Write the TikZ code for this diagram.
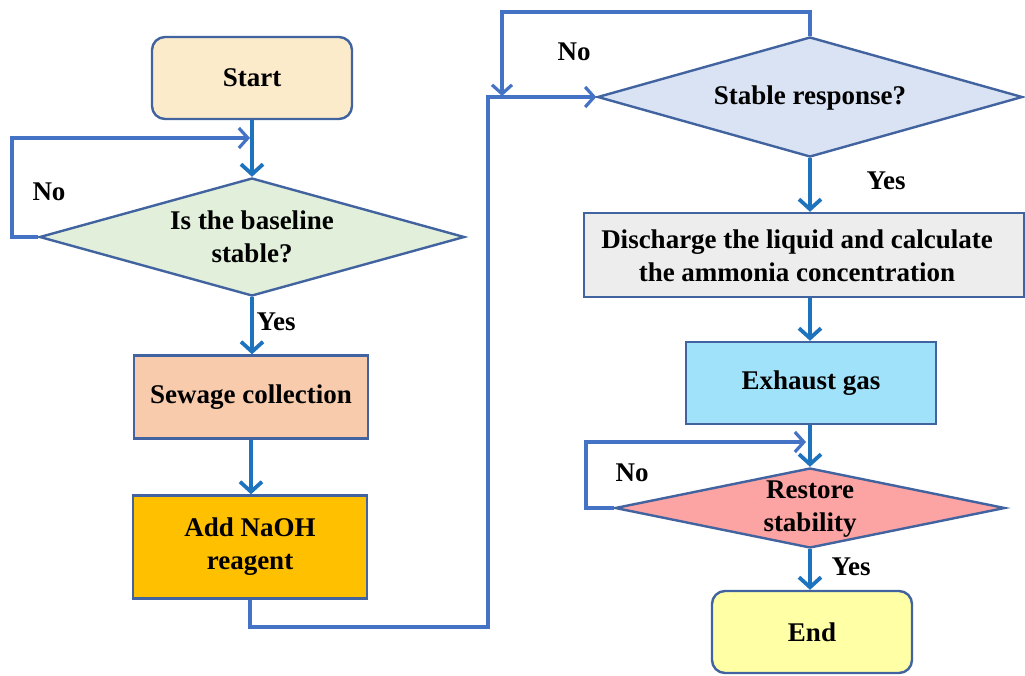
\documentclass[tikz,border=0pt]{standalone}
\usepackage{fontspec}
\setmainfont{Liberation Serif}
\usetikzlibrary{shapes.geometric,arrows.meta}
\definecolor{bordc}{HTML}{41639F}
\definecolor{arrc}{HTML}{1E73BE}
\definecolor{loopc}{HTML}{4472C4}
\definecolor{cstart}{HTML}{FCEBCB}
\definecolor{cd1}{HTML}{E2EFDA}
\definecolor{csew}{HTML}{F8CBAD}
\definecolor{cnaoh}{HTML}{FFC000}
\definecolor{cd2}{HTML}{DAE3F3}
\definecolor{cdis}{HTML}{EDEDED}
\definecolor{cexh}{HTML}{A0E2FA}
\definecolor{cd3}{HTML}{FCA3A3}
\definecolor{cend}{HTML}{FFFFA6}
\begin{document}
\begin{tikzpicture}[x=1pt,y=-1pt,
  txt/.style={font=\fontsize{27}{33}\selectfont\bfseries, align=center, inner sep=0pt},
  box/.style={draw=bordc, line width=2.4pt, inner sep=0pt, txt},
  rbox/.style={box, rounded corners=13pt},
  dia/.style={diamond, draw=bordc, line width=2.4pt, inner sep=0pt},
  flow/.style={draw=arrc, line width=3.8pt, -{Straight Barb[length=10pt,width=22pt]}},
  loopa/.style={draw=loopc, line width=3.2pt, -{Straight Barb[length=9pt,width=20pt]}},
  lbl/.style={txt}]
\useasboundingbox (0,0) rectangle (1025,675);
\fill[white] (0,0) rectangle (1025,675);
% left column
\node[rbox, fill=cstart, minimum width=200pt, minimum height=82pt] (start) at (252,78) {Start};
\node[dia, fill=cd1, minimum width=425pt, minimum height=118pt] (d1) at (252,237) {};
\node[txt] (d1t) at (252,237) {Is the baseline\\stable?};
\node[box, fill=csew, minimum width=234pt, minimum height=83pt] (sew) at (251,397) {Sewage collection};
\node[box, fill=cnaoh, minimum width=234pt, minimum height=103pt] (naoh) at (250,547) {Add NaOH\\reagent};
% right column
\node[dia, fill=cd2, minimum width=425pt, minimum height=120pt] (d2) at (810,97) {};
\node[txt] (d2t) at (810,98) {Stable response?};
\node[box, fill=cdis, minimum width=440pt, minimum height=84pt] (dis) at (804,255) {};
\node[txt] (dist) at (797,256) {Discharge the liquid and calculate\\the ammonia concentration};
\node[box, fill=cexh, minimum width=250pt, minimum height=82pt] (exh) at (811,383) {Exhaust gas};
\node[dia, fill=cd3, minimum width=390pt, minimum height=80pt] (d3) at (810,508) {};
\node[txt] (d3t) at (810,509) {Restore\\stability};
\node[rbox, fill=cend, minimum width=200pt, minimum height=82pt] (end) at (812,632) {End};
% labels
\node[lbl] (no1) at (49,192) {No};
\node[lbl] (yes1) at (276,322) {Yes};
\node[lbl] (no2) at (574,52) {No};
\node[lbl] (yes2) at (886,181) {Yes};
\node[lbl] (no3) at (632,473) {No};
\node[lbl] (yes3) at (851,567) {Yes};
% junction coordinates
\coordinate (j1) at (250,138);
\coordinate (j2) at (502,96);
\coordinate (j3) at (806,442);
% flow arrows
\draw[flow] (start.south) -- (d1.north);
\draw[flow] (d1.south) -- (sew.north -| d1.south);
\draw[flow] (sew.south) -- (naoh.north -| sew.south);
\draw[flow] (d2.south) -- (d2.south |- dis.north);
\draw[flow] (d2.south |- dis.south) -- (d2.south |- exh.north);
\draw[flow] (d3.north |- exh.south) -- (d3.north);
\draw[flow] (d3.south) -- (d3.south |- end.north);
% loops
\draw[loopa] (d1.west) -| (12,138) -- (j1);
\draw[loopa] (naoh.south) -- (250,627) -| (488,97) -- (d2.west);
\draw[loopa] (d2.north) -- (810,12) -| (j2);
\draw[loopa] (d3.west) -| (586,442) -- (j3);
\end{tikzpicture}
\end{document}
